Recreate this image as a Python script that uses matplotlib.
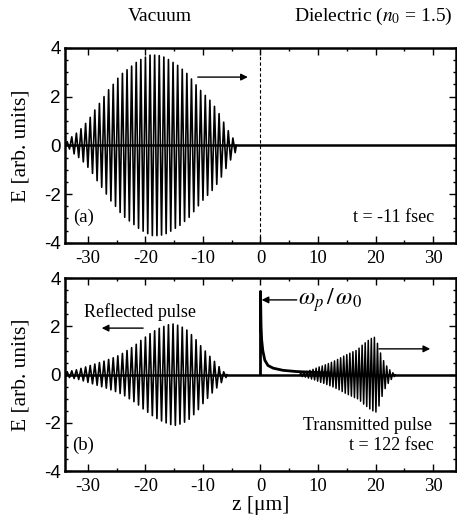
import numpy as np
import matplotlib
matplotlib.use("Agg")
import matplotlib.pyplot as plt
from matplotlib.ticker import MultipleLocator

plt.rcParams["axes.unicode_minus"] = False

# ---------------- data ----------------
# panel (a): incident pulse, carrier wavelength in vacuum (um), start z, cycle amplitudes
a_lambda = 0.8
a_start = -33.6
a_amp = [0.15, 0.35, 0.5, 0.68, 0.9, 1.15, 1.45, 1.72, 2.0, 2.28, 2.5, 2.75, 2.95,
         3.1, 3.25, 3.4, 3.52, 3.62, 3.7, 3.7, 3.68, 3.62, 3.52, 3.4, 3.28, 3.12,
         2.95, 2.72, 2.48, 2.25, 2.05, 1.85, 1.6, 1.3, 0.95, 0.6, 0.3]

# panel (b): reflected pulse (vacuum)
r_lambda = 0.8
r_start = -33.6
r_amp = [0.12, 0.16, 0.2, 0.26, 0.32, 0.38, 0.44, 0.5, 0.56, 0.63, 0.7, 0.78, 0.88,
         1.0, 1.12, 1.26, 1.42, 1.56, 1.7, 1.82, 1.92, 2.0, 2.07, 2.1, 2.05, 1.97,
         1.85, 1.66, 1.45, 1.2, 0.98, 0.76, 0.55, 0.33, 0.12]

# panel (b): transmitted pulse (dielectric, n0 = 1.5)
t_lambda = 0.8 / 1.5
t_start = 7.0
t_amp = [0.08, 0.1, 0.14, 0.18, 0.22, 0.27, 0.32, 0.36, 0.41, 0.46, 0.51, 0.57,
         0.63, 0.7, 0.77, 0.83, 0.89, 0.95, 1.0, 1.1, 1.22, 1.32, 1.42, 1.5, 1.55,
         1.3, 0.9, 0.58, 0.36, 0.2, 0.08]

# panel (b): surface spike and its decay
spike_z = [0.0, 0.0, 0.1, 0.2, 0.4, 0.75, 1.3, 2.2, 3.9, 6.2, 9.0, 12.0]
spike_E = [0.0, 3.45, 2.0, 1.45, 1.0, 0.6, 0.38, 0.27, 0.18, 0.13, 0.1, 0.07]

x_ticks = [-30, -20, -10, 0, 10, 20, 30]
y_ticks = [-4, -2, 0, 2, 4]


def zigzag(start, lam, amps):
    """Alternating extremes +a, -a every half wavelength."""
    amps = np.asarray(amps)
    n = len(amps)
    z = start + lam * np.arange(n)
    zz = np.empty(2 * n + 2)
    ee = np.empty(2 * n + 2)
    zz[0] = start - lam / 4
    ee[0] = 0.0
    zz[1:-1:2] = z
    zz[2:-1:2] = z + lam / 2
    ee[1:-1:2] = amps
    ee[2:-1:2] = -amps
    zz[-1] = z[-1] + 3 * lam / 4
    ee[-1] = 0.0
    return zz, ee


serif = "Liberation Serif"
sans = "Liberation Sans"

fig = plt.figure(figsize=(4.57, 5.20), dpi=100)
ax_a = fig.add_axes([0.142, 0.533, 0.856, 0.375])
ax_b = fig.add_axes([0.142, 0.094, 0.856, 0.371])

for ax in (ax_a, ax_b):
    ax.set_xlim(-34, 34)
    ax.set_ylim(-4, 4)
    ax.set_xticks(x_ticks)
    ax.set_yticks(y_ticks)
    ax.xaxis.set_minor_locator(MultipleLocator(5))
    ax.yaxis.set_minor_locator(MultipleLocator(0.5))
    ax.tick_params(which="both", direction="in", top=True, right=True, width=1.0)
    ax.tick_params(which="major", length=5)
    ax.tick_params(which="minor", length=2.5)
    ax.tick_params(axis="x", labelsize=13.5, pad=5)
    ax.tick_params(axis="y", labelsize=13.5, pad=3)
    for lab in ax.get_xticklabels():
        lab.set_fontfamily(serif)
    for lab in ax.get_yticklabels():
        lab.set_fontfamily(sans)
    for sp in ax.spines.values():
        sp.set_linewidth(1.8)
    ax.axhline(0, color="black", lw=1.8, zorder=3)

# ---- panel (a)
zz, ee = zigzag(a_start, a_lambda, a_amp)
ax_a.plot(zz, ee, color="black", lw=1.2)
ax_a.axvline(0, color="black", lw=0.8, ls=(0, (3, 2)))
ax_a.annotate("", xy=(-2.2, 2.8), xytext=(-10.9, 2.8),
              arrowprops=dict(arrowstyle="-|>", color="black", lw=1.0,
                              mutation_scale=10, shrinkA=0, shrinkB=0))
ax_a.text(-30.8, -2.95, "(a)", fontfamily=serif, fontsize=13.5, ha="center", va="center")
ax_a.text(30.2, -2.95, "t = -11 fsec", fontfamily=serif, fontsize=13, ha="right", va="center")

# ---- panel (b)
zz, ee = zigzag(r_start, r_lambda, r_amp)
ax_b.plot(zz, ee, color="black", lw=1.2)
zz, ee = zigzag(t_start, t_lambda, t_amp)
ax_b.plot(zz, ee, color="black", lw=1.1)
ax_b.plot(spike_z, spike_E, color="black", lw=2.0, zorder=4)

ax_b.annotate("", xy=(-27.6, 1.93), xytext=(-20.4, 1.93),
              arrowprops=dict(arrowstyle="-|>", color="black", lw=1.0,
                              mutation_scale=10, shrinkA=0, shrinkB=0))
ax_b.annotate("", xy=(29.5, 1.07), xytext=(20.6, 1.07),
              arrowprops=dict(arrowstyle="-|>", color="black", lw=1.0,
                              mutation_scale=10, shrinkA=0, shrinkB=0))
ax_b.annotate("", xy=(0.2, 3.1), xytext=(6.3, 3.1),
              arrowprops=dict(arrowstyle="-|>", color="black", lw=1.0,
                              mutation_scale=10, shrinkA=0, shrinkB=0))
ax_b.text(6.5, 3.1, r"$\omega_p\,/\,\omega_0$", fontsize=17, ha="left", va="center",
          math_fontfamily="stix")
ax_b.text(-21.0, 2.6, "Reflected pulse", fontfamily=serif, fontsize=13, ha="center", va="center")
ax_b.text(18.6, -2.1, "Transmitted pulse", fontfamily=serif, fontsize=13, ha="center", va="center")
ax_b.text(-30.8, -2.95, "(b)", fontfamily=serif, fontsize=13.5, ha="center", va="center")
ax_b.text(30.2, -2.95, "t = 122 fsec", fontfamily=serif, fontsize=13, ha="right", va="center")
ax_b.set_xlabel("z [μm]", fontfamily=serif, fontsize=15.5, labelpad=1)

# ---- y labels and headings
for ax in (ax_a, ax_b):
    pos = ax.get_position()
    fig.text(0.045, pos.y0 + pos.height / 2, "E [arb. units]", rotation=90,
             fontfamily=serif, fontsize=15.5, ha="center", va="center")

fig.text(0.35, 0.968, "Vacuum", fontfamily=serif, fontsize=14, ha="center", va="center")
fig.text(0.99, 0.968, r"Dielectric ($n_0$ = 1.5)", fontfamily=serif, fontsize=14,
         ha="right", va="center", math_fontfamily="stix")

fig.savefig("out.png", dpi=100)
